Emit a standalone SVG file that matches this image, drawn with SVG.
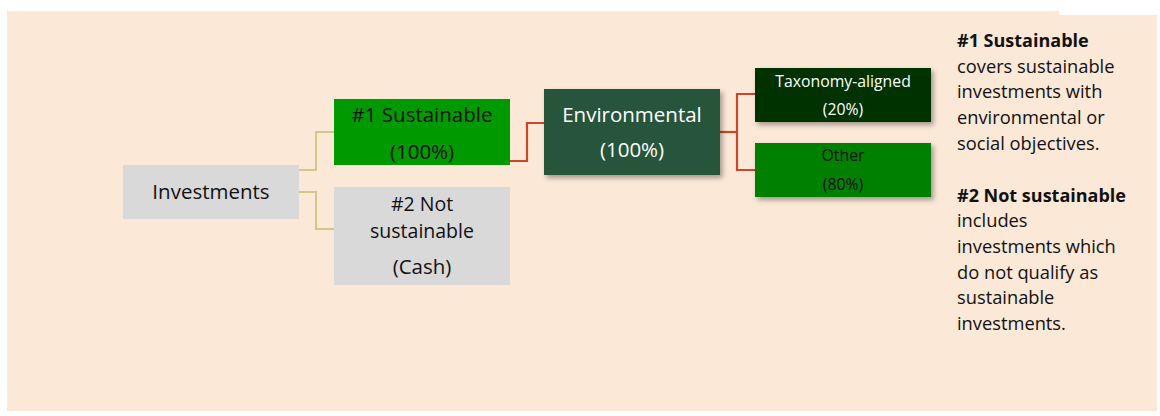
<svg xmlns="http://www.w3.org/2000/svg" width="1160" height="416" viewBox="0 0 1160 416">
  <defs>
    <filter id="sh" x="-10%" y="-10%" width="130%" height="140%">
      <feDropShadow dx="2.5" dy="3" stdDeviation="2.5" flood-color="#000" flood-opacity="0.35"/>
    </filter>
    <style>
      .t { font-family: "Open Sans", "Noto Sans", sans-serif; text-anchor: middle; }
      .big { font-size: 20.5px; }
      .mid { font-size: 19.5px; }
      .small { font-size: 15.8px; }
      .dark { fill: #111; }
      .light { fill: #fff; }
      .note { font-family: "Open Sans", "Noto Sans", sans-serif; font-size: 18.3px; fill: #111; }
      .b { font-weight: bold; font-size: 18px; }
      .c1 { fill: none; stroke: #D4C68A; stroke-width: 2; }
      .c2 { fill: none; stroke: #C9472B; stroke-width: 2.2; }
    </style>
  </defs>

  <polygon points="7,11 1059,11 1059,15 1157,15 1157,411 7,411" fill="#FBE8D7"/>

  <g id="connectors">
    <polyline class="c1" points="299,170 316,170 316,132 334,132"/>
    <polyline class="c1" points="299,192 316,192 316,229 334,229"/>
    <polyline class="c2" points="510,161 527,161 527,123 544,123"/>
    <polyline class="c2" points="720,132 737,132"/>
    <polyline class="c2" points="755,94 737,94 737,170 755,170"/>
  </g>

  <g id="investments">
    <rect x="123" y="165" width="176" height="54" fill="#D9D9D9"/>
    <text class="t big dark" x="211" y="199">Investments</text>
  </g>

  <g id="sustainable">
    <rect x="334" y="99" width="176" height="66" fill="#009900"/>
    <text class="t big dark" x="422" y="122">#1 Sustainable</text>
    <text class="t big dark" x="422" y="159">(100%)</text>
  </g>

  <g id="not-sustainable">
    <rect x="334" y="187" width="176" height="98" fill="#D9D9D9"/>
    <text class="t mid dark" x="422" y="211">#2 Not</text>
    <text class="t mid dark" x="422" y="238">sustainable</text>
    <text class="t big dark" x="422" y="274">(Cash)</text>
  </g>

  <g id="environmental">
    <rect x="544" y="89" width="176" height="86" fill="#26553A" filter="url(#sh)"/>
    <text class="t big light" x="632" y="122">Environmental</text>
    <text class="t big light" x="632" y="157">(100%)</text>
  </g>

  <g id="taxonomy">
    <rect x="755" y="68" width="176" height="54" fill="#003300" filter="url(#sh)"/>
    <text class="t small light" x="843" y="87">Taxonomy-aligned</text>
    <text class="t small light" x="843" y="115">(20%)</text>
  </g>

  <g id="other">
    <rect x="755" y="143" width="176" height="54" fill="#008000" filter="url(#sh)"/>
    <text class="t small dark" x="843" y="161">Other</text>
    <text class="t small dark" x="843" y="190">(80%)</text>
  </g>

  <g id="legend">
    <text class="note b" x="957" y="47">#1 Sustainable</text>
    <text class="note" x="957" y="72.7">covers sustainable</text>
    <text class="note" x="957" y="98.4">investments with</text>
    <text class="note" x="957" y="124.1">environmental or</text>
    <text class="note" x="957" y="149.8">social objectives.</text>
    <text class="note b" x="957" y="201.5">#2 Not sustainable</text>
    <text class="note" x="957" y="227.2">includes</text>
    <text class="note" x="957" y="252.9">investments which</text>
    <text class="note" x="957" y="278.6">do not qualify as</text>
    <text class="note" x="957" y="304.3">sustainable</text>
    <text class="note" x="957" y="330">investments.</text>
  </g>
</svg>
